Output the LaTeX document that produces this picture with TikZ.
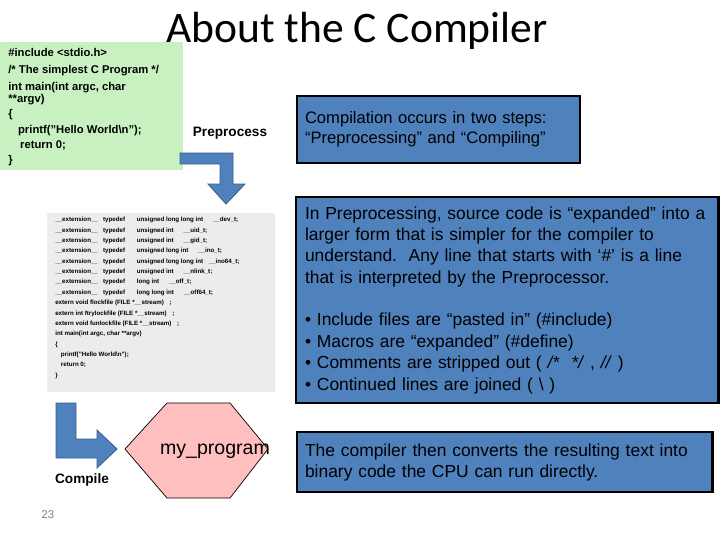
\documentclass[tikz,border=0pt]{standalone}
\usepackage{fontspec}
\setmainfont{Liberation Sans}
\newfontfamily\titlefont{Carlito}
\usetikzlibrary{positioning}

\definecolor{codegreen}{RGB}{200,240,192}
\definecolor{listgray}{RGB}{236,236,236}
\definecolor{stepblue}{RGB}{79,129,189}
\definecolor{stepedge}{RGB}{56,93,138}
\definecolor{progpink}{RGB}{255,191,191}
\newcommand{\extdef}{\makebox[34pt][l]{\_\_extension\_\_}\makebox[24pt][l]{typedef}}

\begin{document}
\begin{tikzpicture}[
      x=0.025cm, y=-0.025cm,
      info_box/.style={draw=black, line width=2pt, fill=stepblue, anchor=north west, outer sep=0pt,
        inner xsep=0.2cm, align=left, font=\fontsize{12.4}{15.2}\selectfont},
      step_arrow/.style={fill=stepblue, draw=stepedge, line width=0.6pt},
      step_label/.style={font=\bfseries\fontsize{9.7}{11}\selectfont},
      code_txt/.style={anchor=north west, inner sep=0pt, align=left}
    ]
      \useasboundingbox (0,0) rectangle (720,540);

      \node[anchor=base] (title) at (357,42) {\titlefont\fontsize{31}{36}\selectfont About the C Compiler};

      % source file
      \fill[codegreen] (0,42) rectangle (183,170);
      \node[code_txt, font=\bfseries\fontsize{8}{8.5}\selectfont] (src) at (8,48) {\#include <stdio.h>\\[3.5pt]
        /* The simplest C Program */\\[3.5pt]
        int main(int argc, char\\
        **argv)\\[2.1pt]
        \{\\[3.5pt]
        \hspace{7pt}printf("Hello World\textbackslash n");\\[2.1pt]
        \hspace{8.5pt}return 0;\\[2.1pt]
        \}};

      \filldraw[step_arrow] (180,153) -- (233,153) -- (233,184) -- (245,184) -- (226,204)
        -- (208,184) -- (220,184) -- (220,164) -- (180,164) -- cycle;
      \node[step_label] (pre) at (230,133) {Preprocess};

      % preprocessed file
      \fill[listgray] (47,213) rectangle (275,392);
      \node[code_txt, font=\bfseries\fontsize{4.4}{7.37}\selectfont] (listing) at (55,217) {\extdef unsigned long long int\hspace{7pt}\_\_dev\_t;\\
        \extdef unsigned int\hspace{7pt}\_\_uid\_t;\\
        \extdef unsigned int\hspace{7pt}\_\_gid\_t;\\
        \extdef unsigned long int\hspace{7pt}\_\_ino\_t;\\
        \extdef unsigned long long int\hspace{4pt}\_\_ino64\_t;\\
        \extdef unsigned int\hspace{7pt}\_\_nlink\_t;\\
        \extdef long int\hspace{7pt}\_\_off\_t;\\
        \extdef long long int\hspace{7pt}\_\_off64\_t;\\
        extern void flockfile (FILE *\_\_stream)\hspace{4pt};\\
        extern int ftrylockfile (FILE *\_\_stream)\hspace{4pt};\\
        extern void funlockfile (FILE *\_\_stream)\hspace{4pt};\\
        int main(int argc, char **argv)\\
        \{\\
        \hspace{4pt}printf("Hello World\textbackslash n");\\
        \hspace{4pt}return 0;\\
        \}};

      \filldraw[step_arrow] (56,403) -- (76,403) -- (76,439) -- (97,439) -- (97,430) -- (117,449)
        -- (97,468) -- (97,458) -- (56,458) -- cycle;
      \node[step_label] (comp) at (82,480) {Compile};

      % executable
      \filldraw[fill=progpink, draw=black, line width=0.5pt] (125,449) -- (167,403) -- (230,403)
        -- (268,449) -- (230,498) -- (167,498) -- cycle;
      \node[font=\fontsize{13.9}{16}\selectfont] (prog) at (215,451) {my\_program};

      \node[text=gray, font=\fontsize{8}{9}\selectfont] (pnum) at (48,515) {23};

      % notes
      \node[info_box, font=\fontsize{11.8}{14.2}\selectfont, minimum width=7.075cm, minimum height=1.675cm, text width=6.675cm] (steps) at (297,96)
        {Compilation occurs in two steps:\\“Preprocessing” and “Compiling”};
      \node[info_box, inner xsep=0.225cm, minimum width=10.55cm, minimum height=5.15cm, text width=10.1cm] (prepinfo) at (296,197)
        {In Preprocessing, source code is “expanded” into a\\
        larger form that is simpler for the compiler to\\
        understand.\ \ Any line that starts with ‘\#’ is a line\\
        that is interpreted by the Preprocessor.\\[15.2pt]
        • Include files are “pasted in” (\#include)\\
        • Macros are “expanded” (\#define)\\
        • Comments are stripped out ( \textit{/*}\ \ \textit{*/} , \textit{//} )\\
        • Continued lines are joined ( \textbackslash\ )};
      \node[info_box, font=\fontsize{12.4}{14.9}\selectfont, minimum width=10.375cm, minimum height=1.5cm, text width=9.975cm] (compinfo) at (297,432)
        {The compiler then converts the resulting text into\\binary code the CPU can run directly.};
    \end{tikzpicture}
\end{document}
